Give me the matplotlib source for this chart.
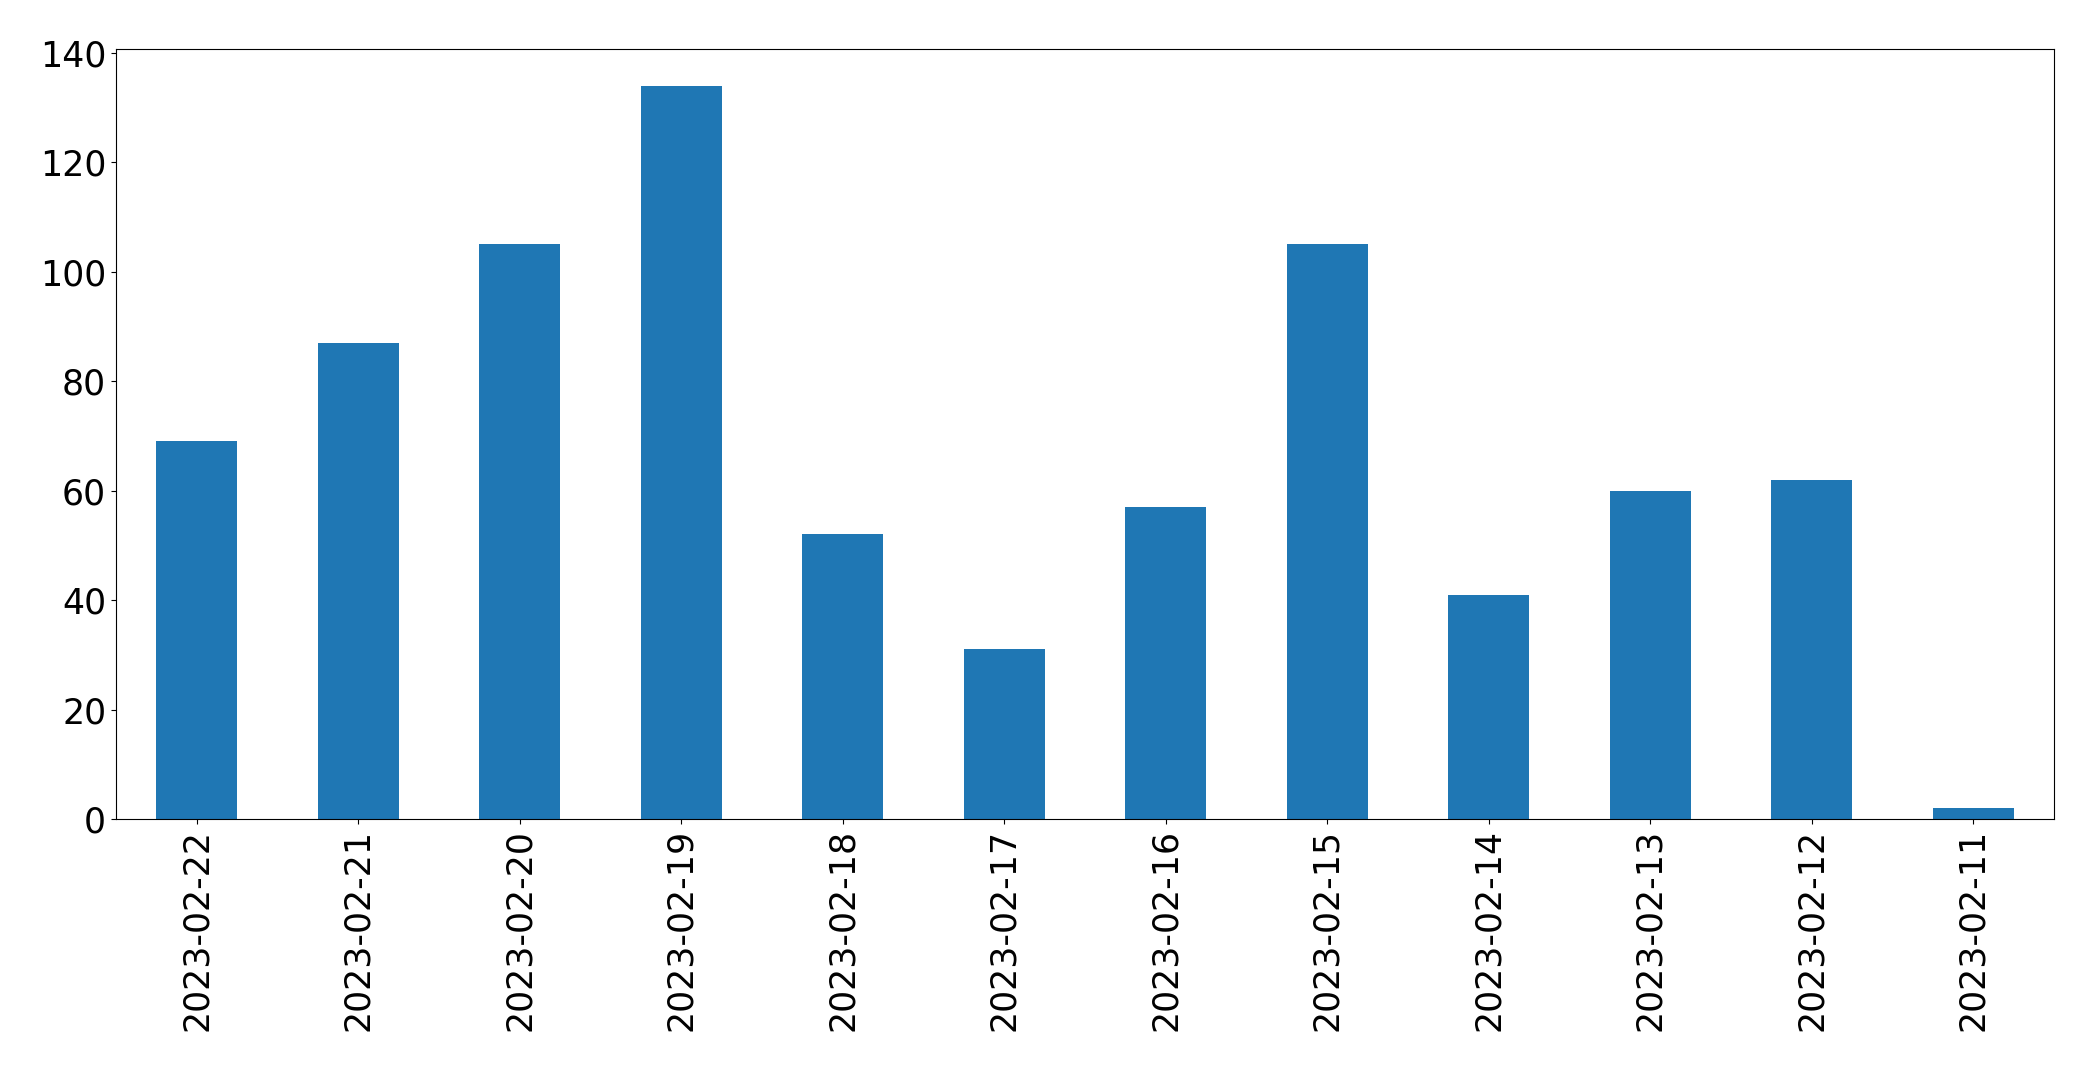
import matplotlib
matplotlib.use("Agg")
import matplotlib.pyplot as plt
import numpy as np

# Daily counts, newest first (as in the reference)
DATES = ["2023-02-22", "2023-02-21", "2023-02-20", "2023-02-19", "2023-02-18",
         "2023-02-17", "2023-02-16", "2023-02-15", "2023-02-14", "2023-02-13",
         "2023-02-12", "2023-02-11"]
COUNTS = [69, 87, 105, 134, 52, 31, 57, 105, 41, 60, 62, 2]

BAR_BLUE = "#1f77b4"

fig = plt.figure(figsize=(20.93, 10.71), dpi=100)
ax = fig.add_axes([0.0554, 0.2353, 0.9260, 0.7189])

x = np.arange(len(DATES))
ax.bar(x, COUNTS, 0.5, color=BAR_BLUE)
ax.set_xlim(-0.5, len(DATES) - 0.5)
ax.set_xticks(x)
ax.set_xticklabels(DATES, rotation=90)
ax.tick_params(axis="both", labelsize=25)

fig.savefig("out.png", dpi=100, facecolor="white")
plt.close(fig)
